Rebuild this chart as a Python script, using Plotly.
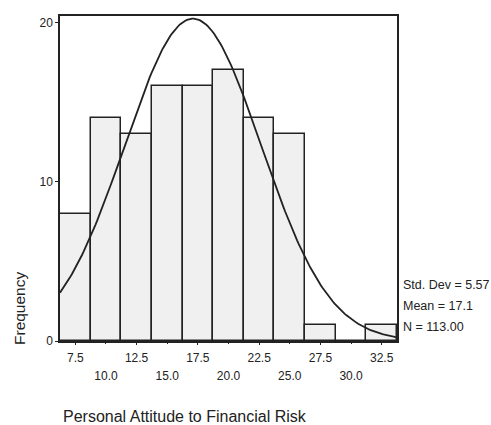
import numpy as np
import plotly.graph_objects as go

bin_centers = [7.5, 10.0, 12.5, 15.0, 17.5, 20.0, 22.5, 25.0, 27.5, 30.0, 32.5]
frequencies = [8, 14, 13, 16, 16, 17, 14, 13, 1, 0, 1]
upper_tick_vals = [7.5, 12.5, 17.5, 22.5, 27.5, 32.5]
upper_tick_text = ["7.5", "12.5", "17.5", "22.5", "27.5", "32.5"]
lower_tick_vals = [10.0, 15.0, 20.0, 25.0, 30.0]
lower_tick_text = ["10.0", "15.0", "20.0", "25.0", "30.0"]
std_dev = 5.57
mean = 17.1
n_total = 113
bin_width = 2.5

xs = np.linspace(6.25, 33.75, 200)
ys = n_total * bin_width / (std_dev * np.sqrt(2 * np.pi)) * np.exp(-0.5 * ((xs - mean) / std_dev) ** 2)

fig = go.Figure()
fig.add_trace(go.Bar(x=bin_centers, y=frequencies, width=bin_width,
                     marker=dict(color="#f0f0f0", line=dict(color="#222222", width=1.5)),
                     showlegend=False))
fig.add_trace(go.Scatter(x=xs, y=ys, mode="lines", line=dict(color="#222222", width=1.8),
                         cliponaxis=False, showlegend=False))

font = dict(family="Liberation Sans, Arial, sans-serif", size=12, color="#222222")
xr = [6.25, 33.75]
fig.update_layout(
    width=491, height=425,
    margin=dict(l=60, r=94, t=16, b=84),
    paper_bgcolor="white", plot_bgcolor="white",
    font=font,
    bargap=0,
    xaxis=dict(range=xr, tickmode="array", tickvals=upper_tick_vals, ticktext=upper_tick_text,
               showline=True, mirror=True, linecolor="#222222", linewidth=1.5,
               ticks="outside", ticklen=2, tickcolor="#222222", showgrid=False, zeroline=False,
               ticklabelstandoff=3, tickfont=dict(size=12)),
    xaxis2=dict(range=xr, overlaying="x", matches="x", anchor="y", side="bottom",
                tickmode="array", tickvals=lower_tick_vals, ticktext=lower_tick_text,
                showline=False, ticks="outside", ticklen=2, tickcolor="#222222",
                showgrid=False, zeroline=False, ticklabelstandoff=22, tickfont=dict(size=12)),
    yaxis=dict(range=[0, 20.4], tickmode="array", tickvals=[0, 10, 20], ticktext=["0", "10", "20"],
               showline=True, mirror=True, linecolor="#222222", linewidth=1.5,
               ticks="outside", ticklen=3, tickcolor="#222222", showgrid=False, zeroline=False,
               tickfont=dict(size=12)),
)
# invisible trace to activate the second x axis
fig.add_trace(go.Scatter(x=[xr[0]], y=[0], xaxis="x2", mode="markers",
                         marker=dict(opacity=0), hoverinfo="skip", showlegend=False))

stats = [f"Std. Dev = {std_dev:.2f}", f"Mean = {mean}", f"N = {n_total:.2f}"]
for i, s in enumerate(stats):
    fig.add_annotation(text=s, xref="paper", yref="paper", x=1.013, y=(341 - 285 - i * 21) / 325,
                       xanchor="left", yanchor="middle", showarrow=False, font=dict(size=12.5))

fig.add_annotation(text="Frequency", xref="paper", yref="paper", x=(19 - 60) / 337, y=(341 - 309) / 325,
                   textangle=-90, xanchor="center", yanchor="middle", showarrow=False,
                   font=dict(size=15.5))
fig.add_annotation(text="Personal Attitude to Financial Risk", xref="paper", yref="paper",
                   x=(185 - 60) / 337, y=-(416 - 341) / 325, xanchor="center", yanchor="middle",
                   showarrow=False, font=dict(size=16))

fig.write_html("out.html")
